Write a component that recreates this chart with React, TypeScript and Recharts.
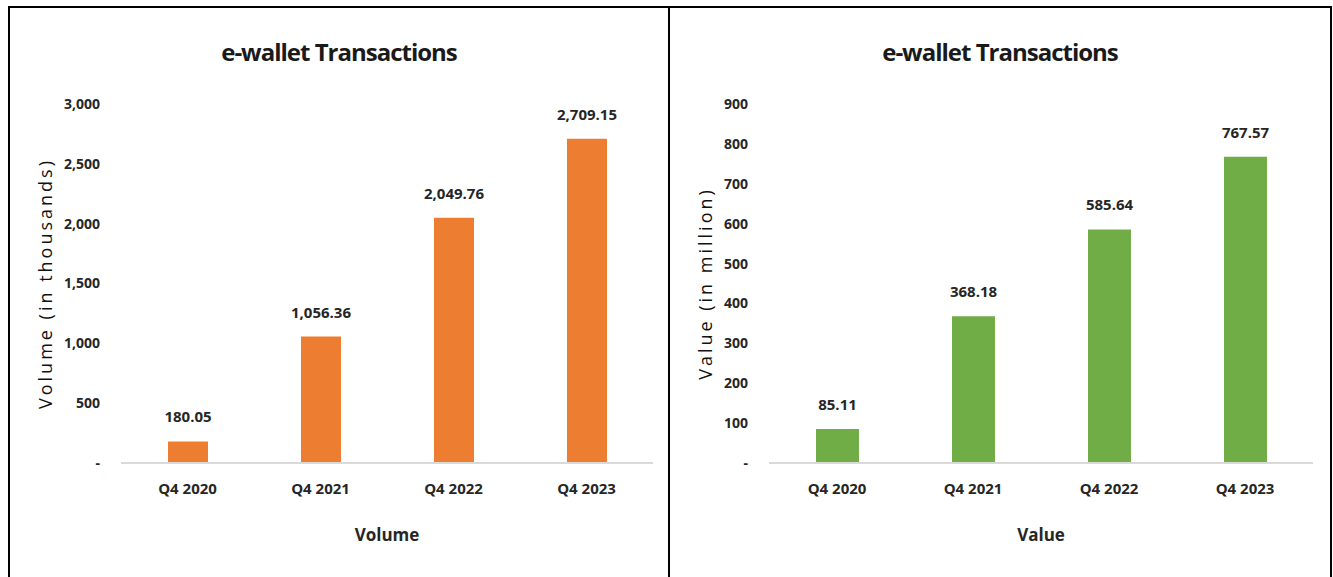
import { Bar, BarChart, LabelList, XAxis, YAxis, Label } from "recharts";

const quarters = ["Q4 2020", "Q4 2021", "Q4 2022", "Q4 2023"];
const volumeThousands = [180.05, 1056.36, 2049.76, 2709.15];
const valueMillion = [85.11, 368.18, 585.64, 767.57];
const volumeTicks = [0, 500, 1000, 1500, 2000, 2500, 3000];
const valueTicks = [0, 100, 200, 300, 400, 500, 600, 700, 800, 900];

const FONT = "'Open Sans', sans-serif";
const TEXT = "#262626";

const volumeData = quarters.map((q, i) => ({ quarter: q, v: volumeThousands[i] }));
const valueData = quarters.map((q, i) => ({ quarter: q, v: valueMillion[i] }));

function fmtTick(v: number): string {
  return v === 0 ? "-" : v.toLocaleString("en-US");
}

function fmtLabel(v: number): string {
  return v.toLocaleString("en-US", { minimumFractionDigits: 2, maximumFractionDigits: 2 });
}

interface PanelProps {
  left: number;
  width: number;
  data: { quarter: string; v: number }[];
  ticks: number[];
  max: number;
  color: string;
  yLabel: string;
  xLabel: string;
  yAxisWidth: number;
  barSize: number;
  borderLeft: boolean;
}

function Panel({ left, width, data, ticks, max, color, yLabel, xLabel, yAxisWidth, barSize, borderLeft }: PanelProps) {
  return (
    <div
      style={{
        position: "absolute",
        left,
        top: 6,
        width,
        height: 590,
        borderTop: "2px solid #000",
        borderRight: "2px solid #000",
        borderLeft: borderLeft ? "2px solid #000" : "none",
        boxSizing: "border-box",
      }}
    >
      <div
        style={{
          position: "absolute",
          left: 0,
          width: "100%",
          top: 27,
          textAlign: "center",
          fontFamily: FONT,
          fontWeight: "bold",
          fontSize: 24,
          letterSpacing: -1,
          color: "#1a1a1a",
        }}
      >
        e-wallet Transactions
      </div>
      <div style={{ position: "absolute", left: 0, top: 0 }}>
        <BarChart
          width={width - 2}
          height={555}
          data={data}
          margin={{ top: 96, right: 17, bottom: 0, left: 0 }}
        >
          <XAxis
            dataKey="quarter"
            height={100}
            axisLine={{ stroke: "#D9D9D9", strokeWidth: 2 }}
            tickLine={false}
            tickSize={0}
            tickMargin={20}
            tick={{ fill: TEXT, fontSize: 15, fontFamily: FONT, fontWeight: "bold" }}
          >
            <Label
              value={xLabel}
              position="insideBottom"
              offset={22}
              style={{ fill: TEXT, fontSize: 17, fontFamily: FONT, fontWeight: "bold" }}
            />
          </XAxis>
          <YAxis
            domain={[0, max]}
            ticks={ticks}
            interval={0}
            width={yAxisWidth}
            axisLine={false}
            tickLine={false}
            tickSize={0}
            tickMargin={21}
            tickFormatter={fmtTick}
            tick={{ fill: TEXT, fontSize: 14, fontFamily: FONT, fontWeight: "bold" }}
          >
            <Label
              value={yLabel}
              angle={-90}
              position="insideLeft"
              offset={36}
              style={{ textAnchor: "middle", fill: "#111", fontSize: 18, fontFamily: FONT, letterSpacing: 3 }}
            />
          </YAxis>
          <Bar dataKey="v" fill={color} barSize={barSize} isAnimationActive={false}>
            <LabelList
              dataKey="v"
              position="top"
              offset={19}
              formatter={(v: number) => fmtLabel(v)}
              style={{ fill: TEXT, fontSize: 15, fontFamily: FONT, fontWeight: "bold" }}
            />
          </Bar>
        </BarChart>
      </div>
    </div>
  );
}

export default function App() {
  return (
    <div style={{ position: "absolute", left: 0, top: 0, width: 1333, height: 577, background: "#fff", overflow: "hidden" }}>
      <Panel
        left={8}
        width={662}
        data={volumeData}
        ticks={volumeTicks}
        max={3000}
        color="#ED7D31"
        yLabel="Volume  (in thousands)"
        xLabel="Volume"
        yAxisWidth={111}
        barSize={40}
        borderLeft
      />
      <Panel
        left={670}
        width={662}
        data={valueData}
        ticks={valueTicks}
        max={900}
        color="#70AD47"
        yLabel="Value  (in million)"
        xLabel="Value"
        yAxisWidth={99}
        barSize={43}
        borderLeft={false}
      />
    </div>
  );
}
